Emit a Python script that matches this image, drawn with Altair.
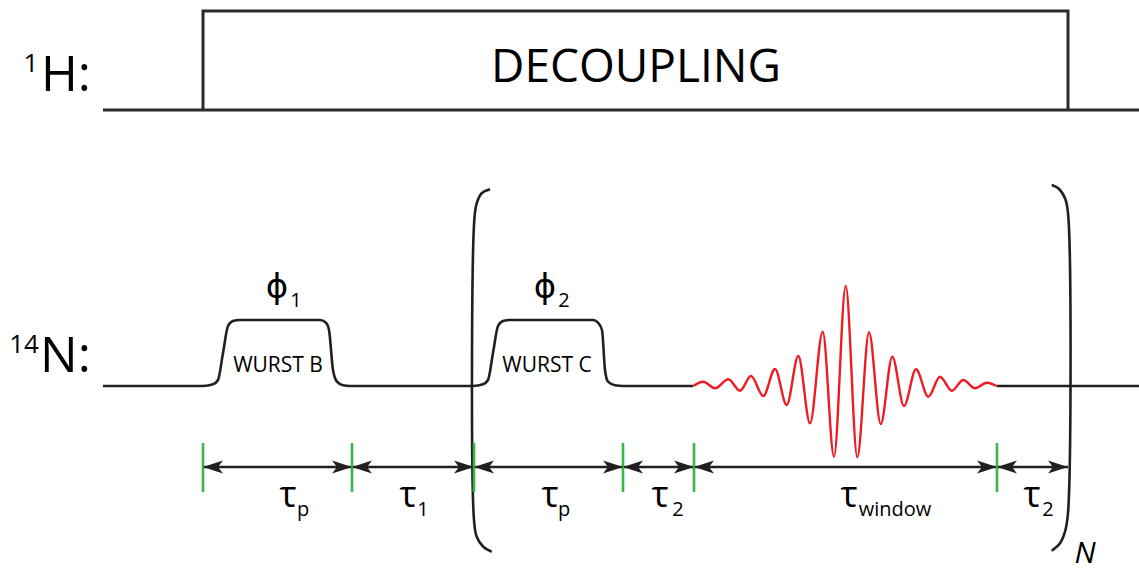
import altair as alt
import pandas as pd

W, H = 1139, 571
BLACK = "#231f20"
GREEN = "#39b54a"
RED = "#ed1c24"

# ---------------- 1H channel ----------------
H_BASE_X = [103, 1139]
H_BASE_Y = [110, 110]
H_BOX_X = [203, 203, 1068, 1068]
H_BOX_Y = [110, 11, 11, 110]

# ---------------- 14N channel ----------------
N_BASE_Y = 386
PULSE_B_X = [203, 213, 218, 223, 228, 233, 240, 320, 326, 329, 333, 337, 343, 350]
PULSE_C_X = [473, 483, 488, 493, 498, 503, 510, 593, 598, 602, 605, 608, 615, 623]
PULSE_Y = [386, 384.3, 380, 353, 326, 321, 320, 320, 322.7, 330, 370, 381.7, 385.3, 386]
TRACE_START_X = 103
FID_START_X = 693
FID_END_X = 997
TRACE_END_X = 1139

FID_X = [693.3, 703.3, 715, 728.3, 740, 751, 763.3, 775, 786.7, 798.3, 810, 822.7, 834,
         845.7, 857.3, 869, 880.7, 892.3, 904, 916, 928.3, 940, 951.7, 963.3, 975, 986.7, 996.7]
FID_Y = [386, 381.7, 388.3, 379.3, 390.7, 376, 396, 369, 405, 356, 423.3, 331.7, 456.7,
         286, 457.3, 332.3, 424, 356.7, 406, 369.3, 396.7, 376.7, 390.7, 380, 388.3, 382.7, 386]

# brackets
LB_X = [490, 481.7, 476.7, 474.3, 474, 476.7, 483.3, 491.7]
LB_Y = [189.3, 193.3, 203.3, 220, 520, 536.7, 546.7, 551.7]
RB_X = [1051.7, 1058.3, 1065, 1068, 1068, 1065, 1060, 1051.7]
RB_Y = [185, 188.3, 198.3, 213, 513, 531.7, 543.3, 550.7]

# timing
ARROW_Y = 467
MARK_X = [203, 352, 474, 623, 694, 997]
MARK_Y1, MARK_Y2 = 443, 492
SPAN_START = [203, 352, 474, 623, 694, 997]
SPAN_END = [352, 474, 623, 694, 997, 1068]

TAU_X = [288, 408, 550, 660, 849, 1032]
TAU_SUB = ["p", "1", "p", "2", "window", "2"]
TAU_SUB_X = [303, 423, 564, 678, 895, 1048]
TAU_Y = 507
SUB_Y = 516

xs = alt.Scale(domain=[0, W], range=[0, W], nice=False, zero=False)
ys = alt.Scale(domain=[0, H], range=[0, H], nice=False, zero=False)


def X(f="x"):
    return alt.X(f"{f}:Q", scale=xs, axis=None)


def Y(f="y"):
    return alt.Y(f"{f}:Q", scale=ys, axis=None)


def path_df(xv, yv, seg=0):
    return pd.DataFrame({"x": xv, "y": yv, "o": list(range(len(xv))), "seg": [seg] * len(xv)})


# 1H lines
h_df = pd.concat([path_df(H_BASE_X, H_BASE_Y, 0), path_df(H_BOX_X, H_BOX_Y, 1)])
h_layer = alt.Chart(h_df).mark_line(color="#2b2b2b", strokeWidth=3, interpolate="linear").encode(
    x=X(), y=Y(), order="o:Q", detail="seg:N")

# 14N black trace
tx = [TRACE_START_X] + PULSE_B_X + PULSE_C_X + [FID_START_X]
ty = [N_BASE_Y] + PULSE_Y + PULSE_Y + [N_BASE_Y]
n_df = pd.concat([path_df(tx, ty, 0), path_df([FID_END_X, TRACE_END_X], [N_BASE_Y, N_BASE_Y], 1)])
n_layer = alt.Chart(n_df).mark_line(color=BLACK, strokeWidth=2.6, interpolate="monotone").encode(
    x=X(), y=Y(), order="o:Q", detail="seg:N")

fid_layer = alt.Chart(path_df(FID_X, FID_Y)).mark_line(color=RED, strokeWidth=2.4, interpolate="monotone").encode(
    x=X(), y=Y(), order="o:Q")

br_df = pd.concat([path_df(LB_X, LB_Y, 0), path_df(RB_X, RB_Y, 1)])
br_layer = alt.Chart(br_df).mark_line(color=BLACK, strokeWidth=2.6, interpolate="catmull-rom").encode(
    x=X(), y=Y(), order="o:Q", detail="seg:N")

# timing arrows
span_df = pd.DataFrame({"x": SPAN_START, "x2": SPAN_END, "y": [ARROW_Y] * len(SPAN_START)})
shaft = alt.Chart(span_df).mark_rule(color=BLACK, strokeWidth=2.6).encode(
    x=X(), x2="x2:Q", y=Y())
LEFT_HEAD = "M0,0 L2,-0.65 L1.5,0 L2,0.65 Z"
RIGHT_HEAD = "M0,0 L-2,-0.65 L-1.5,0 L-2,0.65 Z"
lh = alt.Chart(span_df).mark_point(shape=LEFT_HEAD, filled=True, size=400, color=BLACK, opacity=1,
                                   strokeWidth=0).encode(x=X(), y=Y())
rh = alt.Chart(span_df).mark_point(shape=RIGHT_HEAD, filled=True, size=400, color=BLACK, opacity=1,
                                   strokeWidth=0).encode(x=X("x2"), y=Y())
mk_df = pd.DataFrame({"x": MARK_X, "y": [MARK_Y1] * len(MARK_X), "y2": [MARK_Y2] * len(MARK_X)})
marks = alt.Chart(mk_df).mark_rule(color=GREEN, strokeWidth=2.6).encode(x=X(), y=Y(), y2="y2:Q")


def text_layer(labels, xv, yv, size, align="center", font="Open Sans", style="normal", baseline="alphabetic"):
    df = pd.DataFrame({"t": labels, "x": xv, "y": yv})
    return alt.Chart(df).mark_text(fontSize=size, align=align, baseline=baseline, font=font,
                                   fontStyle=style, color="#000000").encode(x=X(), y=Y(), text="t:N")


texts = [
    text_layer(["H:"], [41], [91], 50, align="left"),
    text_layer(["1"], [31], [72], 26),
    text_layer(["N:"], [40], [372], 50, align="left"),
    text_layer(["14"], [24], [353], 26),
    text_layer(["DECOUPLING"], [636], [82], 46),
    text_layer(["ϕ", "ϕ"], [277, 545], [298, 298], 34, font="DejaVu Sans"),
    text_layer(["1", "2"], [296, 564], [307, 307], 20),
    text_layer(["WURST B", "WURST C"], [278, 547], [371.5, 371.5], 21),
    text_layer(["τ"] * len(TAU_X), TAU_X, [TAU_Y] * len(TAU_X), 36),
    text_layer(TAU_SUB, TAU_SUB_X, [SUB_Y] * len(TAU_SUB), 20),
    text_layer(["N"], [1085], [563], 30, style="italic"),
]

chart = alt.layer(h_layer, n_layer, fid_layer, br_layer, shaft, marks, lh, rh, *texts).properties(
    width=W, height=H, padding=0, autosize=alt.AutoSizeParams(type="none"), background="white"
).configure_view(stroke=None)

chart.save("out.html", embed_options={"renderer": "svg", "actions": False})
